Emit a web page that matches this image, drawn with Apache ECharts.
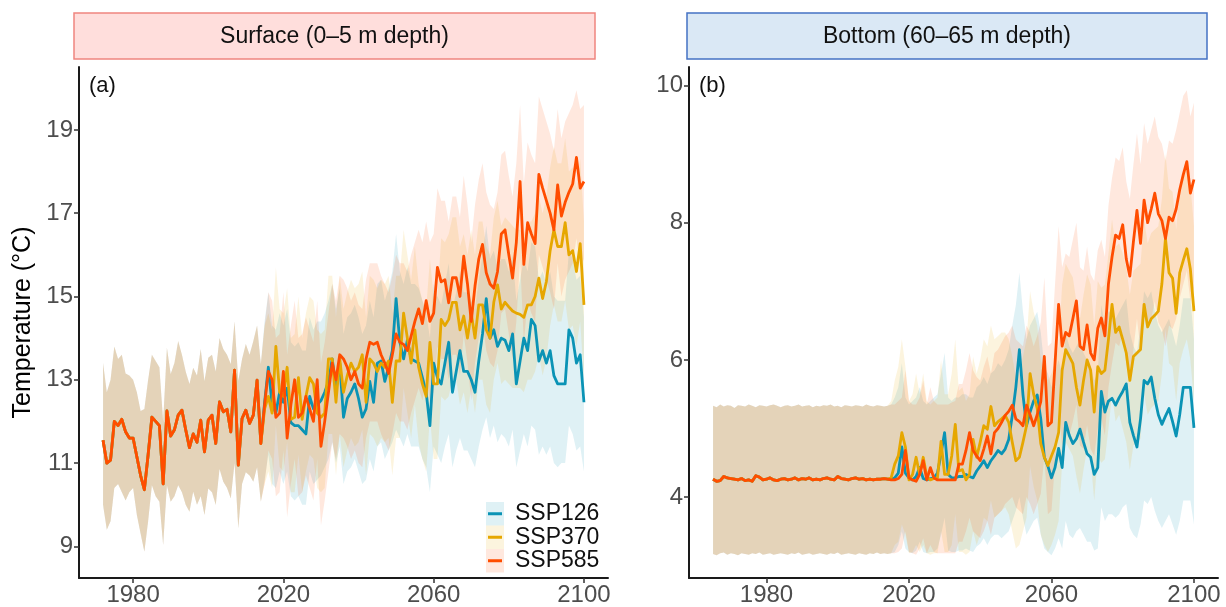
<!DOCTYPE html>
<html><head><meta charset="utf-8">
<script src="https://cdn.jsdelivr.net/npm/echarts@6/dist/echarts.min.js"></script>
<style>html,body{margin:0;padding:0;background:#fff}#c{width:1226px;height:607px}</style>
</head><body><div id="c"></div>
<script>
// ---------- categories / ticks ----------
const scenarioNames = ['SSP126', 'SSP370', 'SSP585'];
const xTicks = [1980, 2020, 2060, 2100];
const yTicksSurface = [9, 11, 13, 15, 17, 19];
const yTicksBottom = [4, 6, 8, 10];
const surfaceHistStart = 1972;
const bottomHistStart = 1965;
const scenarioStart = 2015;

// ---------- (a) Surface: historical (1972-2014) ----------
const surfHist = [11.55, 11.0, 11.07, 12.0, 11.9, 12.05, 11.75, 11.6, 11.6, 11.15,
  10.7, 10.36, 11.2, 12.1, 12.0, 11.9, 10.5, 12.25, 11.65, 11.8,
  12.15, 12.27, 11.8, 11.37, 11.7, 11.5, 12.03, 11.27, 12.03, 12.15,
  11.47, 12.47, 12.23, 12.29, 11.75, 13.23, 10.95, 12.07, 12.27, 11.95,
  12.15, 12.99, 11.47];
const surfHistHi = [13.4, 12.7, 13.0, 13.8, 13.5, 13.6, 13.15, 13.1, 13.0, 12.7,
  12.25, 12.3, 13.0, 13.6, 13.45, 13.3, 12.0, 13.77, 13.14, 13.4,
  13.93, 13.6, 13.2, 12.9, 13.29, 13.1, 13.74, 12.97, 13.53, 13.6,
  13.2, 14.0, 13.74, 13.6, 13.38, 14.4, 12.97, 13.5, 13.86, 13.6,
  13.93, 14.3, 13.38];
const surfHistLo = [10.0, 9.4, 9.6, 10.4, 10.5, 10.3, 10.1, 10.3, 10.4, 9.75,
  9.3, 8.87, 9.6, 10.47, 10.2, 10.07, 9.03, 10.47, 10.07, 10.2,
  10.47, 10.3, 10.0, 9.83, 10.31, 10.0, 10.2, 9.75, 10.39, 10.3,
  9.99, 10.86, 10.55, 10.4, 10.15, 11.0, 9.43, 10.5, 10.78, 10.7,
  10.55, 10.9, 10.07];

// ---------- (a) Surface: scenarios (2015-2100) ----------
const surf126 = [12.46, 13.3, 12.4, 12.2, 12.7, 12.46, 12.8, 11.97, 11.9, 11.9,
  11.8, 11.7, 12.6, 12.3, 12.4, 12.5, 12.7, 12.96, 13.5, 12.8,
  13.4, 12.1, 12.55, 12.7, 12.9, 12.55, 12.1, 12.3, 12.96, 12.46,
  13.4, 13.45, 12.96, 13.3, 13.7, 14.95, 13.9, 13.5, 13.95, 13.5,
  13.45, 13.4, 13.05, 12.7, 11.9, 13.4, 13.05, 12.9, 13.4, 13.9,
  12.7, 13.2, 13.7, 13.2, 13.2, 13.0, 12.7, 13.45, 14.1, 14.95,
  14.0, 14.2, 13.8, 14.0, 13.95, 13.7, 14.1, 12.9, 13.45, 14.0,
  13.7, 14.45, 14.3, 13.45, 13.7, 13.4, 13.7, 13.1, 12.9, 12.9,
  12.9, 14.2, 14.0, 13.4, 13.6, 12.46];
const surf126Hi = [14.4, 15.1, 14.3, 14.2, 14.6, 14.3, 14.7, 13.9, 13.8, 13.9,
  13.7, 13.7, 14.5, 14.2, 14.4, 14.4, 14.6, 14.9, 15.3, 14.7,
  15.2, 14.1, 14.5, 14.6, 14.8, 14.5, 14.1, 14.3, 14.9, 14.5,
  15.3, 15.4, 14.9, 15.2, 15.6, 16.5, 15.6, 15.3, 15.7, 15.3,
  15.3, 15.2, 14.9, 14.6, 14.0, 15.3, 15.0, 14.8, 15.3, 15.8,
  14.7, 15.1, 15.6, 15.1, 15.1, 14.9, 14.7, 15.4, 16.0, 16.7,
  15.9, 16.1, 15.7, 15.9, 15.9, 15.6, 16.0, 14.9, 15.4, 15.9,
  15.6, 16.3, 16.2, 15.4, 15.6, 15.3, 15.6, 15.0, 14.9, 14.9,
  14.9, 16.1, 15.9, 15.4, 15.5, 14.5];
const surf126Lo = [10.6, 11.2, 10.5, 10.4, 10.8, 10.5, 10.8, 10.2, 10.1, 10.2,
  10.0, 10.0, 10.8, 10.5, 10.6, 10.7, 10.9, 11.1, 11.5, 11.0,
  11.4, 10.5, 10.8, 10.9, 11.1, 10.8, 10.5, 10.6, 11.1, 10.8,
  11.4, 11.5, 11.1, 11.3, 11.5, 11.8, 11.6, 11.4, 11.7, 11.4,
  11.4, 11.4, 11.1, 10.9, 10.3, 11.4, 11.2, 11.0, 11.4, 11.7,
  10.9, 11.3, 11.6, 11.3, 11.3, 11.1, 10.9, 11.4, 11.8, 12.1,
  11.6, 11.9, 11.5, 11.7, 11.6, 11.4, 11.8, 10.9, 11.3, 11.7,
  11.4, 11.9, 11.8, 11.2, 11.4, 11.2, 11.4, 11.0, 10.9, 11.0,
  11.0, 11.9, 11.7, 11.3, 11.4, 10.8];
const surf370 = [12.3, 12.6, 12.2, 13.8, 12.7, 12.6, 13.3, 12.05, 12.1, 13.05,
  12.05, 12.6, 13.05, 12.9, 12.2, 12.1, 12.2, 13.5, 13.5, 12.46,
  13.5, 12.7, 13.1, 13.4, 13.2, 13.3, 13.6, 12.46, 13.5, 13.4,
  13.2, 13.4, 13.3, 13.45, 12.46, 13.45, 13.45, 14.6, 14.0, 13.4,
  14.2, 13.3, 12.9, 12.6, 13.9, 12.9, 12.9, 14.45, 14.3, 14.45,
  14.86, 14.86, 14.2, 14.53, 14.0, 14.6, 14.0, 14.8, 14.8, 14.2,
  14.0, 14.86, 15.28, 14.7, 14.86, 14.75, 14.65, 14.6, 14.57, 14.5,
  14.8, 14.8, 15.0, 15.44, 14.95, 15.36, 16.1, 16.6, 16.2, 16.2,
  16.77, 16.0, 16.1, 15.6, 16.27, 14.8];
const surf370Hi = [14.3, 14.6, 14.2, 15.7, 14.7, 14.6, 15.2, 14.0, 14.1, 15.0,
  14.0, 14.6, 15.0, 14.9, 14.2, 14.1, 14.2, 15.5, 15.5, 14.5,
  15.5, 14.7, 15.1, 15.4, 15.2, 15.3, 15.6, 14.5, 15.5, 15.4,
  15.2, 15.4, 15.3, 15.5, 14.6, 15.5, 15.5, 16.6, 16.0, 15.4,
  16.2, 15.3, 14.9, 14.7, 15.9, 15.0, 15.0, 16.4, 16.3, 16.5,
  16.9, 16.9, 16.2, 16.5, 16.0, 16.6, 16.0, 16.8, 16.8, 16.2,
  16.0, 16.9, 17.3, 16.7, 16.9, 16.8, 16.7, 16.6, 16.6, 16.5,
  16.8, 16.8, 17.0, 17.4, 17.0, 17.4, 18.1, 18.6, 18.2, 18.2,
  18.8, 18.0, 18.1, 17.6, 18.3, 16.8];
const surf370Lo = [10.5, 10.8, 10.4, 11.9, 10.9, 10.8, 11.5, 10.3, 10.3, 11.2,
  10.3, 10.8, 11.2, 11.1, 10.4, 10.3, 10.4, 11.7, 11.7, 10.7,
  11.7, 10.9, 11.3, 11.6, 11.4, 11.5, 11.8, 10.7, 11.7, 11.6,
  11.4, 11.6, 11.5, 11.6, 10.7, 11.6, 11.6, 12.8, 12.2, 11.6,
  12.4, 11.5, 11.1, 10.8, 12.1, 11.1, 11.1, 12.6, 12.5, 12.6,
  13.0, 13.0, 12.4, 12.7, 12.2, 12.8, 12.2, 13.0, 13.0, 12.4,
  12.2, 13.0, 13.4, 12.9, 13.0, 12.9, 12.8, 12.8, 12.8, 12.7,
  13.0, 13.0, 13.2, 13.6, 13.1, 13.5, 14.3, 14.8, 14.4, 14.4,
  14.9, 14.2, 14.3, 13.8, 14.4, 13.0];
const surf585 = [12.4, 13.2, 13.0, 12.1, 12.2, 13.2, 11.6, 12.4, 13.0, 12.1,
  12.2, 12.6, 12.3, 12.0, 13.0, 11.4, 12.0, 12.7, 13.4, 13.0,
  13.6, 13.5, 13.3, 13.0, 13.2, 12.9, 12.8, 13.5, 13.9, 13.85,
  13.9, 13.6, 13.4, 13.15, 13.6, 14.1, 13.9, 13.85, 13.7, 14.05,
  14.4, 14.7, 14.35, 14.9, 14.4, 14.6, 15.7, 15.35, 15.4, 14.85,
  15.45, 15.45, 15.0, 15.97, 15.3, 14.4, 15.25, 15.9, 16.25, 15.57,
  15.3, 15.2, 15.6, 16.5, 16.6, 16.0, 15.44, 16.3, 17.76, 15.77,
  16.77, 16.5, 16.27, 17.93, 17.6, 17.3, 17.0, 16.6, 17.68, 16.93,
  17.26, 17.5, 17.7, 18.34, 17.6, 17.76];
const surf585Hi = [14.3, 15.1, 14.9, 14.0, 14.1, 15.1, 13.6, 14.3, 14.9, 14.0,
  14.1, 14.5, 14.2, 13.9, 14.9, 13.4, 13.9, 14.6, 15.3, 14.9,
  15.5, 15.4, 15.2, 14.9, 15.1, 14.8, 14.7, 15.4, 15.8, 15.8,
  15.8, 15.5, 15.3, 15.1, 15.5, 16.0, 15.8, 15.8, 15.6, 16.0,
  16.3, 16.6, 16.3, 16.8, 16.3, 16.5, 17.6, 17.3, 17.3, 16.8,
  17.4, 17.4, 16.9, 17.9, 17.2, 16.3, 17.2, 17.8, 18.2, 17.5,
  17.2, 17.1, 17.5, 18.4, 18.5, 17.9, 17.4, 18.2, 19.6, 17.7,
  18.7, 18.4, 18.2, 19.8, 19.5, 19.2, 18.9, 18.5, 19.5, 18.8,
  19.2, 19.4, 19.6, 19.95, 19.5, 19.6];
const surf585Lo = [10.5, 11.3, 11.1, 10.2, 10.3, 11.3, 9.7, 10.5, 11.1, 10.2,
  10.3, 10.7, 10.4, 10.1, 11.1, 9.5, 10.1, 10.8, 11.5, 11.1,
  11.7, 11.6, 11.4, 11.1, 11.3, 11.0, 10.9, 11.6, 12.0, 12.0,
  12.0, 11.7, 11.5, 11.3, 11.7, 12.2, 12.0, 12.0, 11.8, 12.2,
  12.5, 12.8, 12.5, 13.0, 12.5, 12.7, 13.8, 13.5, 13.5, 13.0,
  13.6, 13.6, 13.1, 14.1, 13.4, 12.5, 13.4, 14.0, 14.4, 13.7,
  13.4, 13.3, 13.7, 14.6, 14.7, 14.1, 13.5, 14.4, 15.9, 13.9,
  14.9, 14.6, 14.4, 16.0, 15.7, 15.4, 15.1, 14.7, 15.8, 15.0,
  15.4, 15.6, 15.8, 16.4, 15.7, 15.9];

// ---------- (b) Bottom: historical (1965-2014) ----------
const botHist = [4.26, 4.23, 4.24, 4.30, 4.28, 4.27, 4.26, 4.25, 4.27, 4.24,
  4.25, 4.23, 4.31, 4.29, 4.25, 4.26, 4.28, 4.25, 4.24, 4.26,
  4.27, 4.25, 4.26, 4.28, 4.25, 4.27, 4.26, 4.28, 4.25, 4.26,
  4.25, 4.27, 4.28, 4.26, 4.25, 4.30, 4.27, 4.26, 4.25, 4.27,
  4.28, 4.26, 4.27, 4.25, 4.26, 4.25, 4.26, 4.26, 4.27, 4.26];
const botHistHi = [5.33, 5.31, 5.35, 5.32, 5.34, 5.33, 5.30, 5.34, 5.33, 5.32,
  5.35, 5.33, 5.31, 5.34, 5.33, 5.32, 5.34, 5.35, 5.33, 5.31,
  5.33, 5.34, 5.32, 5.33, 5.35, 5.32, 5.33, 5.34, 5.31, 5.33,
  5.32, 5.34, 5.33, 5.35, 5.32, 5.33, 5.31, 5.34, 5.33, 5.32,
  5.34, 5.33, 5.32, 5.35, 5.33, 5.32, 5.34, 5.33, 5.32, 5.33];
const botHistLo = [3.17, 3.15, 3.18, 3.19, 3.16, 3.18, 3.17, 3.15, 3.18, 3.17,
  3.16, 3.18, 3.17, 3.19, 3.16, 3.17, 3.18, 3.16, 3.17, 3.18,
  3.17, 3.16, 3.18, 3.17, 3.19, 3.16, 3.17, 3.18, 3.16, 3.17,
  3.18, 3.17, 3.16, 3.18, 3.17, 3.19, 3.16, 3.17, 3.18, 3.17,
  3.16, 3.18, 3.17, 3.16, 3.18, 3.17, 3.19, 3.17, 3.18, 3.17];

// ---------- (b) Bottom: scenarios (2015-2100) ----------
const bot126 = [4.26, 4.28, 4.35, 4.73, 4.35, 4.28, 4.25, 4.30, 4.43, 4.27,
  4.25, 4.27, 4.28, 4.35, 4.63, 4.94, 4.33, 4.28, 4.28, 4.30,
  4.30, 4.33, 4.30, 4.28, 4.38, 4.45, 4.53, 4.43, 4.53, 4.60,
  4.68, 4.63, 4.70, 4.84, 5.19, 5.60, 6.15, 5.49, 5.04, 5.24,
  5.40, 5.49, 5.14, 4.58, 4.45, 4.28, 4.43, 4.71, 4.43, 5.09,
  4.90, 4.78, 4.85, 4.99, 4.80, 4.63, 4.58, 4.33, 4.43, 5.54,
  5.24, 5.40, 5.44, 5.34, 5.45, 5.54, 5.65, 5.09, 4.90, 4.73,
  5.14, 5.70, 5.65, 5.75, 5.44, 5.20, 5.06, 5.18, 5.29, 5.10,
  4.89, 5.20, 5.60, 5.60, 5.60, 5.01];
const bot126Hi = [5.35, 5.45, 5.60, 5.95, 5.45, 5.35, 5.40, 5.45, 5.60, 5.40,
  5.35, 5.40, 5.45, 5.50, 5.80, 6.10, 5.45, 5.40, 5.45, 5.45,
  5.50, 5.50, 5.45, 5.45, 5.60, 5.65, 5.75, 5.65, 5.80, 5.85,
  5.95, 5.90, 6.00, 6.15, 6.50, 6.80, 7.27, 6.70, 6.30, 6.50,
  6.60, 6.70, 6.40, 5.90, 5.80, 5.60, 5.80, 6.00, 5.80, 6.40,
  6.20, 6.10, 6.20, 6.30, 6.10, 6.00, 5.90, 5.70, 5.80, 6.80,
  6.50, 6.70, 6.70, 6.60, 6.70, 6.80, 6.90, 6.40, 6.20, 6.10,
  6.50, 7.00, 6.90, 7.00, 6.70, 6.50, 6.40, 6.50, 6.60, 6.40,
  6.20, 6.50, 6.90, 6.90, 6.90, 6.30];
const bot126Lo = [3.18, 3.20, 3.30, 3.50, 3.25, 3.20, 3.18, 3.22, 3.35, 3.20,
  3.18, 3.20, 3.20, 3.25, 3.45, 3.70, 3.22, 3.20, 3.20, 3.22,
  3.22, 3.25, 3.22, 3.20, 3.28, 3.32, 3.40, 3.30, 3.40, 3.45,
  3.45, 3.40, 3.45, 3.50, 3.65, 3.80, 4.00, 3.70, 3.45, 3.55,
  3.65, 3.70, 3.45, 3.25, 3.20, 3.15, 3.25, 3.40, 3.25, 3.65,
  3.45, 3.40, 3.50, 3.55, 3.45, 3.35, 3.35, 3.22, 3.25, 3.85,
  3.65, 3.75, 3.75, 3.70, 3.75, 3.85, 3.90, 3.55, 3.45, 3.40,
  3.60, 3.95, 3.90, 4.00, 3.80, 3.65, 3.55, 3.65, 3.75, 3.60,
  3.45, 3.65, 3.95, 3.95, 3.95, 3.60];
const bot370 = [4.28, 4.48, 4.60, 4.94, 4.73, 4.25, 4.33, 4.58, 4.33, 4.58,
  4.30, 4.25, 4.27, 4.28, 4.81, 4.33, 4.33, 4.60, 5.06, 4.38,
  4.40, 4.25, 4.33, 4.84, 4.58, 4.80, 5.04, 4.99, 5.32, 5.04,
  5.10, 5.14, 5.19, 5.09, 4.80, 4.53, 4.58, 4.80, 5.04, 5.80,
  5.50, 5.29, 4.78, 4.58, 4.46, 4.60, 4.73, 4.94, 5.85, 6.15,
  6.05, 5.95, 5.60, 5.34, 5.70, 6.00, 5.85, 5.24, 5.90, 5.80,
  5.85, 6.30, 6.81, 6.40, 6.48, 6.30, 6.10, 5.70, 6.05, 6.10,
  6.15, 6.81, 6.48, 6.60, 6.65, 6.71, 7.11, 7.77, 7.27, 7.19,
  6.68, 7.27, 7.45, 7.62, 7.32, 6.71];
const bot370Hi = [5.40, 5.70, 5.90, 6.30, 5.90, 5.40, 5.50, 5.80, 5.50, 5.80,
  5.40, 5.35, 5.40, 5.45, 6.00, 5.50, 5.50, 5.80, 6.30, 5.55,
  5.60, 5.40, 5.50, 6.05, 5.80, 6.00, 6.30, 6.20, 6.50, 6.30,
  6.35, 6.40, 6.40, 6.30, 6.05, 5.75, 5.80, 6.05, 6.30, 7.00,
  6.70, 6.50, 6.00, 5.80, 5.70, 5.80, 5.95, 6.20, 7.10, 7.40,
  7.30, 7.20, 6.85, 6.60, 6.95, 7.25, 7.10, 6.50, 7.15, 7.05,
  7.10, 7.55, 8.05, 7.65, 7.70, 7.55, 7.35, 6.95, 7.30, 7.35,
  7.40, 8.05, 7.70, 7.85, 7.90, 7.95, 8.35, 9.00, 8.50, 8.45,
  7.90, 8.50, 8.70, 8.85, 8.55, 7.95];
const bot370Lo = [3.18, 3.30, 3.35, 3.60, 3.45, 3.18, 3.20, 3.30, 3.20, 3.30,
  3.18, 3.16, 3.18, 3.18, 3.50, 3.20, 3.20, 3.30, 3.75, 3.20,
  3.20, 3.16, 3.20, 3.50, 3.30, 3.45, 3.70, 3.65, 3.95, 3.70,
  3.75, 3.80, 3.85, 3.75, 3.50, 3.25, 3.30, 3.50, 3.70, 4.45,
  4.15, 3.95, 3.45, 3.30, 3.20, 3.30, 3.45, 3.65, 4.50, 4.80,
  4.70, 4.60, 4.30, 4.05, 4.40, 4.70, 4.55, 3.95, 4.60, 4.50,
  4.55, 5.00, 5.50, 5.10, 5.20, 5.00, 4.80, 4.40, 4.75, 4.80,
  4.85, 5.50, 5.20, 5.30, 5.35, 5.40, 5.80, 6.45, 5.95, 5.90,
  5.40, 5.95, 6.15, 6.30, 6.00, 5.40];
const bot585 = [4.25, 4.25, 4.27, 4.33, 4.68, 4.28, 4.25, 4.23, 4.33, 4.53,
  4.25, 4.43, 4.28, 4.25, 4.25, 4.25, 4.25, 4.25, 4.25, 4.48,
  4.48, 4.68, 4.94, 4.68, 4.60, 4.53, 4.70, 4.89, 4.63, 4.94,
  5.00, 5.09, 5.19, 5.25, 5.34, 5.14, 5.10, 5.04, 5.34, 5.20,
  5.04, 5.20, 5.39, 6.05, 5.04, 5.09, 5.95, 6.81, 6.20, 6.40,
  6.35, 6.60, 6.86, 6.20, 6.15, 6.51, 6.10, 6.00, 6.46, 6.61,
  6.35, 7.11, 7.50, 7.82, 7.77, 7.97, 7.47, 7.22, 7.72, 8.18,
  7.70, 8.33, 8.00, 8.20, 8.43, 8.13, 8.03, 7.77, 8.08, 8.03,
  8.20, 8.48, 8.70, 8.89, 8.43, 8.63];
const bot585Hi = [5.35, 5.35, 5.40, 5.45, 5.85, 5.40, 5.35, 5.35, 5.45, 5.70,
  5.35, 5.60, 5.40, 5.35, 5.35, 5.35, 5.35, 5.38, 5.40, 5.65,
  5.65, 5.85, 6.10, 5.85, 5.75, 5.70, 5.90, 6.05, 5.80, 6.10,
  6.15, 6.25, 6.35, 6.40, 6.50, 6.30, 6.25, 6.20, 6.50, 6.40,
  6.20, 6.35, 6.55, 7.20, 6.20, 6.25, 7.10, 7.95, 7.35, 7.55,
  7.50, 7.75, 8.00, 7.35, 7.30, 7.65, 7.25, 7.15, 7.60, 7.75,
  7.50, 8.25, 8.65, 8.95, 8.90, 9.10, 8.60, 8.35, 8.85, 9.30,
  8.85, 9.45, 9.15, 9.35, 9.55, 9.25, 9.15, 8.90, 9.20, 9.15,
  9.35, 9.60, 9.85, 9.93, 9.55, 9.75];
const bot585Lo = [3.18, 3.18, 3.20, 3.25, 3.50, 3.20, 3.18, 3.16, 3.25, 3.40,
  3.18, 3.30, 3.20, 3.18, 3.18, 3.18, 3.18, 3.18, 3.18, 3.35,
  3.35, 3.50, 3.70, 3.50, 3.45, 3.40, 3.50, 3.65, 3.45, 3.70,
  3.75, 3.80, 3.90, 3.95, 4.00, 3.85, 3.80, 3.75, 4.00, 3.90,
  3.75, 3.90, 4.05, 4.60, 3.75, 3.80, 4.50, 5.30, 4.75, 4.95,
  4.90, 5.10, 5.35, 4.75, 4.70, 5.05, 4.70, 4.60, 5.00, 5.15,
  4.90, 5.60, 5.95, 6.25, 6.20, 6.40, 5.95, 5.70, 6.15, 6.60,
  6.15, 6.75, 6.45, 6.60, 6.85, 6.55, 6.45, 6.20, 6.50, 6.45,
  6.60, 6.90, 7.10, 7.30, 6.85, 7.05];

// ---------- styles ----------
const lineColors = ['#0A93B5', '#E6A700', '#FF4D00'];
const bandColors = ['rgba(10,147,181,0.13)', 'rgba(230,167,0,0.13)', 'rgba(255,77,0,0.13)'];
const FONT = '"Liberation Sans", Arial, Helvetica, sans-serif';

function yearsFrom(start, n) { const a = []; for (let i = 0; i < n; i++) a.push(start + i); return a; }

const panels = [
  { hist: surfHist, histLo: surfHistLo, histHi: surfHistHi, start: surfaceHistStart,
    lines: [surf126, surf370, surf585], los: [surf126Lo, surf370Lo, surf585Lo], his: [surf126Hi, surf370Hi, surf585Hi] },
  { hist: botHist, histLo: botHistLo, histHi: botHistHi, start: bottomHistStart,
    lines: [bot126, bot370, bot585], los: [bot126Lo, bot370Lo, bot585Lo], his: [bot126Hi, bot370Hi, bot585Hi] }
];

const series = [];
panels.forEach((p, pi) => {
  const n = p.hist.length + p.lines[0].length;
  const yrs = yearsFrom(p.start, n);
  for (let s = 0; s < 3; s++) {
    const lo = p.histLo.concat(p.los[s]);
    const hi = p.histHi.concat(p.his[s]);
    series.push({
      type: 'custom', name: scenarioNames[s] + ' range', xAxisIndex: pi, yAxisIndex: pi,
      silent: true, z: 1, clip: true, animation: false,
      data: yrs.map((y, i) => [y, lo[i], hi[i]]),
      encode: { x: 0, y: [1, 2] },
      renderItem: function (params, api) {
        if (params.dataIndex !== 0) return null;
        const pts = [];
        for (let i = 0; i < yrs.length; i++) pts.push(api.coord([yrs[i], hi[i]]));
        for (let i = yrs.length - 1; i >= 0; i--) pts.push(api.coord([yrs[i], lo[i]]));
        return { type: 'polygon', shape: { points: pts }, style: { fill: bandColors[s] } };
      }
    });
  }
  for (let s = 0; s < 3; s++) {
    const vals = p.hist.concat(p.lines[s]);
    series.push({
      type: 'line', name: scenarioNames[s], xAxisIndex: pi, yAxisIndex: pi,
      data: yrs.map((y, i) => [y, vals[i]]),
      symbol: 'none', showSymbol: false, z: 3 + s, animation: false,
      lineStyle: { color: lineColors[s], width: 2.8, join: 'round' }, itemStyle: { color: lineColors[s] }
    });
  }
});

function xAxis(gi, min, max) {
  return {
    type: 'value', gridIndex: gi, min: min, max: max,
    axisLine: { show: true, lineStyle: { color: '#1a1a1a', width: 2 } },
    axisTick: { show: true, customValues: xTicks, length: 5, lineStyle: { color: '#333', width: 1.5 } },
    axisLabel: { customValues: xTicks, fontSize: 24, color: '#4D4D4D', fontFamily: FONT, margin: 5,
      formatter: function (v) { return String(v); } },
    splitLine: { show: false }
  };
}
function yAxis(gi, min, max, ticks, name) {
  return {
    type: 'value', gridIndex: gi, min: min, max: max,
    name: name || '', nameLocation: 'middle', nameGap: 43,
    nameTextStyle: { fontSize: 25, color: '#000', fontFamily: FONT },
    axisLine: { show: true, lineStyle: { color: '#1a1a1a', width: 2 } },
    axisTick: { show: true, customValues: ticks, length: 5, lineStyle: { color: '#333', width: 1.5 } },
    axisLabel: { customValues: ticks, fontSize: 24, color: '#4D4D4D', fontFamily: FONT, margin: 6,
      formatter: function (v) { return String(v); } },
    splitLine: { show: false }
  };
}

const legendTop = 502, legendRow = 23.5, legendLeft = 486;
const graphics = [
  { type: 'rect', shape: { x: 74, y: 13, width: 521, height: 46 }, style: { fill: '#FFDEDC', stroke: '#F0857F', lineWidth: 1.5 }, z: 10 },
  { type: 'text', x: 334.5, y: 36.5, style: { text: 'Surface (0–5 m depth)', font: '23px ' + FONT, fill: '#111', textAlign: 'center', textVerticalAlign: 'middle' }, z: 11 },
  { type: 'rect', shape: { x: 687, y: 13, width: 520, height: 46 }, style: { fill: '#DAE8F5', stroke: '#4472C4', lineWidth: 1.5 }, z: 10 },
  { type: 'text', x: 947, y: 36.5, style: { text: 'Bottom (60–65 m depth)', font: '23px ' + FONT, fill: '#111', textAlign: 'center', textVerticalAlign: 'middle' }, z: 11 },
  { type: 'text', x: 89, y: 86, style: { text: '(a)', font: '22px ' + FONT, fill: '#111', textAlign: 'left', textVerticalAlign: 'middle' }, z: 11 },
  { type: 'text', x: 699, y: 86, style: { text: '(b)', font: '22px ' + FONT, fill: '#111', textAlign: 'left', textVerticalAlign: 'middle' }, z: 11 }
];
for (let s = 0; s < 3; s++) {
  graphics.push({ type: 'rect', shape: { x: legendLeft, y: legendTop + s * legendRow, width: 18, height: legendRow }, style: { fill: bandColors[s] }, z: 5 });
}

const chart = echarts.init(document.getElementById('c'), null, { renderer: 'canvas' });
chart.setOption({
  backgroundColor: '#fff',
  animation: false,
  textStyle: { fontFamily: FONT },
  grid: [
    { left: 79, top: 67, width: 529, height: 511 },
    { left: 689, top: 67, width: 529, height: 511 }
  ],
  xAxis: [xAxis(0, 1965.6, 2106.4), xAxis(1, 1958.25, 2106.75)],
  yAxis: [yAxis(0, 8.24, 20.51, yTicksSurface, 'Temperature (°C)'), yAxis(1, 2.82, 10.27, yTicksBottom)],
  legend: {
    data: scenarioNames, orient: 'vertical', left: legendLeft + 2, top: legendTop,
    icon: 'rect', itemWidth: 14, itemHeight: 3, itemGap: 0, padding: 0,
    textStyle: { fontSize: 23, lineHeight: legendRow, height: legendRow, color: '#111', fontFamily: FONT, padding: [0, 0, 0, 8] },
    selectedMode: false, z: 6
  },
  graphic: graphics,
  series: series
});
</script></body></html>
